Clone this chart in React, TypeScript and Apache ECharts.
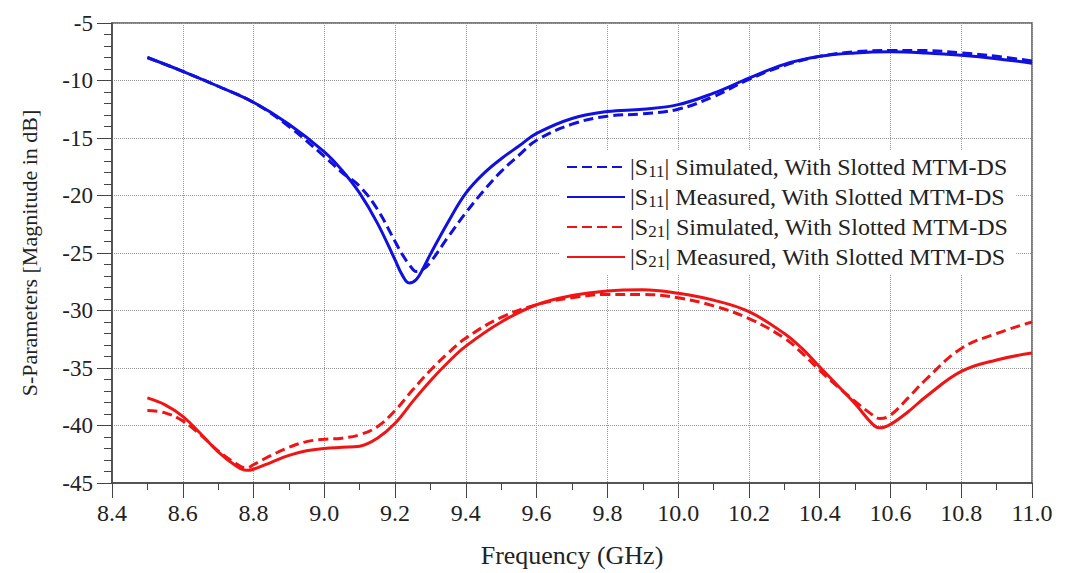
import React, { useEffect, useRef } from "react";
import * as echarts from "echarts";

const s11Freq = [8.5, 8.6, 8.7, 8.8, 8.9, 9.0, 9.05, 9.1, 9.15, 9.2, 9.22, 9.24, 9.26, 9.28, 9.3, 9.35, 9.4, 9.45, 9.5, 9.55, 9.6, 9.7, 9.8, 9.9, 10.0, 10.1, 10.2, 10.3, 10.4, 10.5, 10.6, 10.7, 10.8, 10.9, 11.0];
const s11Sim = [-8.0, -9.2, -10.5, -11.9, -14.0, -16.6, -18.0, -19.2, -21.2, -24.0, -25.1, -26.0, -26.6, -26.4, -25.8, -23.6, -21.5, -19.6, -17.9, -16.5, -15.2, -13.8, -13.1, -12.9, -12.5, -11.4, -9.9, -8.7, -7.9, -7.5, -7.4, -7.4, -7.6, -7.9, -8.3];
const s11Meas = [-8.0, -9.2, -10.5, -11.9, -13.8, -16.2, -17.8, -19.8, -22.4, -25.6, -26.9, -27.6, -27.3, -26.3, -25.1, -22.3, -19.8, -18.1, -16.8, -15.7, -14.6, -13.3, -12.7, -12.5, -12.1, -11.1, -9.8, -8.6, -7.9, -7.6, -7.5, -7.6, -7.8, -8.1, -8.5];

const s21Freq = [8.5, 8.55, 8.6, 8.65, 8.7, 8.75, 8.78, 8.8, 8.85, 8.9, 8.95, 9.0, 9.05, 9.1, 9.15, 9.2, 9.25, 9.3, 9.35, 9.4, 9.5, 9.6, 9.7, 9.8, 9.9, 10.0, 10.1, 10.2, 10.3, 10.35, 10.4, 10.45, 10.5, 10.55, 10.57, 10.6, 10.65, 10.7, 10.8, 10.9, 11.0];
const s21Sim = [-38.7, -38.9, -39.6, -40.8, -42.2, -43.3, -43.7, -43.4, -42.6, -41.9, -41.4, -41.2, -41.1, -40.8, -40.1, -38.7, -36.9, -35.2, -33.7, -32.4, -30.6, -29.5, -28.9, -28.6, -28.6, -28.9, -29.6, -30.7, -32.4, -33.7, -35.2, -36.6, -37.9, -39.1, -39.4, -39.1, -37.6, -36.0, -33.3, -32.0, -31.0];
const s21Meas = [-37.6, -38.2, -39.2, -40.7, -42.3, -43.5, -43.9, -43.8, -43.2, -42.6, -42.2, -42.0, -41.9, -41.8, -41.1, -39.8, -37.9, -36.1, -34.5, -33.1, -31.0, -29.5, -28.7, -28.3, -28.2, -28.5, -29.1, -30.1, -32.0, -33.3, -34.9, -36.5, -38.1, -39.9, -40.2, -39.9, -38.8, -37.5, -35.3, -34.3, -33.7];

const seriesNames = [
  "|S11| Simulated, With Slotted MTM-DS",
  "|S11| Measured, With Slotted MTM-DS",
  "|S21| Simulated, With Slotted MTM-DS",
  "|S21| Measured, With Slotted MTM-DS",
];

const xAxisName = "Frequency (GHz)";
const yAxisName = "S-Parameters [Magnitude in dB]";

const BLUE = "#1010e0";
const RED = "#f01414";
const FONT = "Liberation Serif";

const zip = (xs: number[], ys: number[]) => xs.map((x, i) => [x, ys[i]]);

export default function App() {
  const ref = useRef<HTMLDivElement>(null);
  useEffect(() => {
    if (!ref.current) return;
    const chart = echarts.init(ref.current, undefined, { renderer: "svg" });
    const mk = (name: string, xs: number[], ys: number[], color: string, dashed: boolean) => ({
      name,
      type: "line",
      data: zip(xs, ys),
      showSymbol: false,
      symbol: "none",
      smooth: 0.4,
      lineStyle: { color, width: 3, type: dashed ? [10, 5] : "solid" },
      itemStyle: { color },
    });
    chart.setOption({
      animation: false,
      backgroundColor: "#fff",
      textStyle: { fontFamily: FONT },
      grid: {
        left: 112,
        right: 38,
        top: 23,
        bottom: 90,
        show: true,
        borderColor: "#555",
        borderWidth: 1.5,
        backgroundColor: "transparent",
      },
      legend: {
        orient: "vertical",
        left: 560,
        top: 151,
        itemWidth: 58,
        itemHeight: 14,
        itemGap: 5,
        padding: [4, 8, 4, 6],
        backgroundColor: "#fff",
        itemStyle: { opacity: 0, borderWidth: 0 },
        data: seriesNames,
        formatter: (name: string) => name.replace(/S(11|21)/, "S{sub|$1}"),
        textStyle: {
          fontFamily: FONT,
          fontSize: 24,
          color: "#222",
          rich: {
            sub: { fontFamily: FONT, fontSize: 17, color: "#222", padding: [9, 0, 0, 0] },
          },
        },
      },
      xAxis: {
        type: "value",
        min: 8.4,
        max: 11.0,
        interval: 0.2,
        name: xAxisName,
        nameLocation: "middle",
        nameGap: 59,
        nameTextStyle: { fontFamily: FONT, fontSize: 26, color: "#222" },
        axisLine: { show: true, lineStyle: { color: "#444", width: 1.5 } },
        axisTick: { show: true, length: 15, inside: false, lineStyle: { color: "#444" } },
        minorTick: { show: true, splitNumber: 2, length: 7, lineStyle: { color: "#444" } },
        axisLabel: {
          margin: 18,
          fontFamily: FONT,
          fontSize: 24,
          color: "#222",
          formatter: (v: number) => v.toFixed(1),
        },
        splitLine: { show: true, lineStyle: { color: "#999", type: "dotted", width: 1 } },
      },
      yAxis: {
        type: "value",
        min: -45,
        max: -5,
        interval: 5,
        name: yAxisName,
        nameLocation: "middle",
        nameGap: 72,
        nameTextStyle: { fontFamily: FONT, fontSize: 22, color: "#222" },
        axisLine: { show: true, lineStyle: { color: "#444", width: 1.5 } },
        axisTick: { show: true, length: 15, inside: false, lineStyle: { color: "#444" } },
        minorTick: { show: true, splitNumber: 5, length: 8, lineStyle: { color: "#444" } },
        axisLabel: { margin: 19, fontFamily: FONT, fontSize: 23, color: "#222" },
        splitLine: { show: true, lineStyle: { color: "#999", type: "dotted", width: 1 } },
      },
      series: [
        mk(seriesNames[0], s11Freq, s11Sim, BLUE, true),
        mk(seriesNames[1], s11Freq, s11Meas, BLUE, false),
        mk(seriesNames[2], s21Freq, s21Sim, RED, true),
        mk(seriesNames[3], s21Freq, s21Meas, RED, false),
      ],
    });
    return () => chart.dispose();
  }, []);
  return (
    <div
      ref={ref}
      style={{ position: "fixed", left: 0, top: 0, width: 1070, height: 573, background: "#fff" }}
    />
  );
}
